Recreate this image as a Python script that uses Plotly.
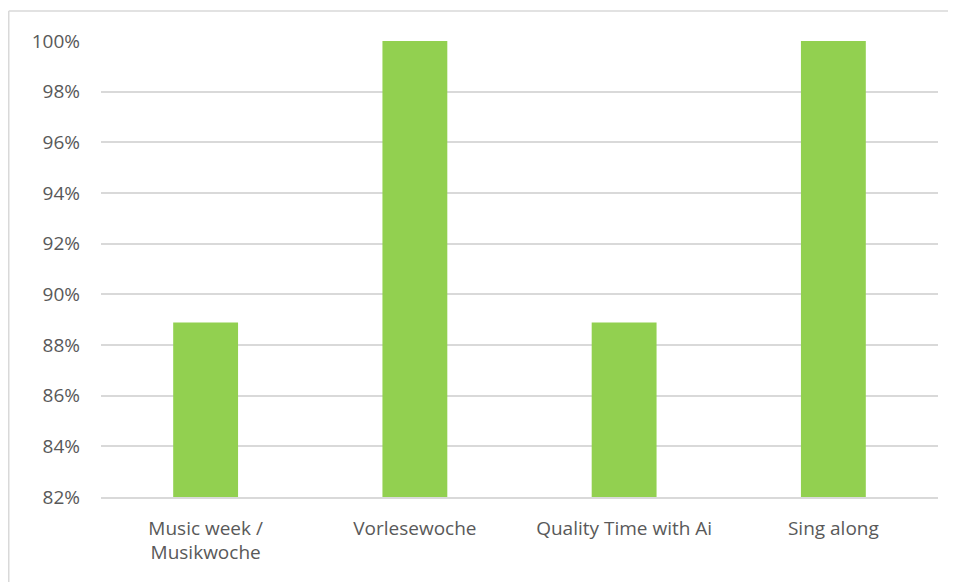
import plotly.graph_objects as go

categories = ["Music week /<br>Musikwoche", "Vorlesewoche", "Quality Time with Ai", "Sing along"]
values = [0.8889, 1.0, 0.8889, 1.0]
tick_vals = [0.82, 0.84, 0.86, 0.88, 0.90, 0.92, 0.94, 0.96, 0.98, 1.00]
tick_text = ["82%", "84%", "86%", "88%", "90%", "92%", "94%", "96%", "98%", "100%"]

# page has an 8px body margin; compensate so the plot lands where the reference has it
OFF = 8
W, H = 956 - OFF, 582 - OFF
L, R, T, B = 101 - OFF, 18, 41 - OFF, 85
pw, ph = W - L - R, H - T - B

frame_top = (H - B - (11 - OFF)) / ph
frame_left = (0.75 - L) / pw

fig = go.Figure(go.Bar(x=categories, y=values, marker=dict(color="#92D050", line=dict(width=0))))

FONT = "Open Sans, Lato, sans-serif"
fig.update_layout(
    width=W, height=H,
    margin=dict(l=L, r=R, t=T, b=B),
    paper_bgcolor="white", plot_bgcolor="white",
    bargap=0.69,
    showlegend=False,
    font=dict(family=FONT, size=19, color="#595959"),
    xaxis=dict(showgrid=False, showline=True, linecolor="#d9d9d9", linewidth=1.5,
               ticks="", ticklabelstandoff=13, tickfont=dict(family=FONT, size=19, color="#595959")),
    yaxis=dict(range=[0.82, 1.0], tickvals=tick_vals, ticktext=tick_text,
               showgrid=True, gridcolor="#d9d9d9", gridwidth=1.5, zeroline=False,
               ticks="", ticklabelstandoff=20,
               tickfont=dict(family=FONT, size=19, color="#595959")),
    shapes=[
        dict(type="line", xref="paper", yref="paper",
             x0=frame_left, x1=(W + 10 - L) / pw,
             y0=frame_top, y1=frame_top,
             line=dict(color="#d9d9d9", width=1.5)),
        dict(type="line", xref="paper", yref="paper",
             x0=frame_left, x1=frame_left,
             y0=frame_top, y1=-(B + 10) / ph,
             line=dict(color="#d9d9d9", width=1.5)),
    ],
)

fig.write_html("out.html")
